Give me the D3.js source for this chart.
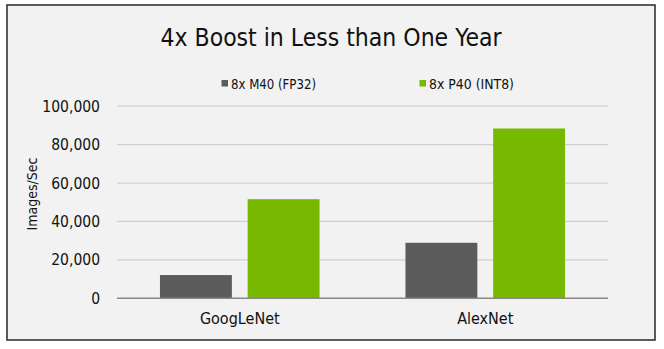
<!DOCTYPE html>
<html><head><meta charset="utf-8">
<script src="https://cdn.jsdelivr.net/npm/d3@7"></script>
<style>
html,body{margin:0;padding:0;background:#fff;}
text{font-family:"DejaVu Sans Condensed","DejaVu Sans",sans-serif;fill:#111;}
</style></head>
<body><svg id="c" width="664" height="349"></svg>
<script>
const categories = ["GoogLeNet", "AlexNet"];
const seriesNames = ["8x M40 (FP32)", "8x P40 (INT8)"];
const m40Values = [12100, 28900];
const p40Values = [51600, 88400];
const yTicks = [0, 20000, 40000, 60000, 80000, 100000];
const colors = ["#5b5b5b", "#76b900"];
const title = "4x Boost in Less than One Year";
const yLabel = "Images/Sec";

const svg = d3.select("#c");
svg.append("rect").attr("x",7).attr("y",5).attr("width",648).attr("height",335)
  .attr("fill","#f2f2f2").attr("stroke","#333").attr("stroke-width",1.6);

const plot = {left:117, right:608, top:106.2, bottom:298.3};
const x0 = d3.scaleBand().domain(categories).range([plot.left, plot.right]).paddingInner(0.35).paddingOuter(0.175);
const x1 = d3.scaleBand().domain(seriesNames).range([0, x0.bandwidth()]).paddingInner(0.18);
const y = d3.scaleLinear().domain([0,100000]).range([plot.bottom, plot.top]);

// gridlines
svg.append("g").selectAll("line").data(yTicks.filter(d=>d>0)).join("line")
  .attr("x1",plot.left).attr("x2",plot.right).attr("y1",d=>y(d)).attr("y2",d=>y(d))
  .attr("stroke","#d0d0d0").attr("stroke-width",1.2);

// y axis labels
const yAxis = d3.axisLeft(y).tickValues(yTicks).tickSize(0).tickPadding(0).tickFormat(d3.format(","));
const ga = svg.append("g").attr("transform",`translate(${plot.left-17},0)`).call(yAxis);
ga.select(".domain").remove();
ga.selectAll("text").attr("font-size",15.5).attr("fill","#111").attr("font-family","'DejaVu Sans Condensed',sans-serif");

// bars
const data = categories.map((c,i)=>({cat:c, vals:[m40Values[i], p40Values[i]]}));
const groups = svg.append("g").selectAll("g").data(data).join("g")
  .attr("transform",d=>`translate(${x0(d.cat)},0)`);
groups.selectAll("rect").data(d=>d.vals.map((v,j)=>({s:seriesNames[j], v, j}))).join("rect")
  .attr("x",d=>x1(d.s)).attr("width",x1.bandwidth())
  .attr("y",d=>y(d.v)).attr("height",d=>y(0)-y(d.v))
  .attr("fill",d=>colors[d.j]);

// baseline
svg.append("line").attr("x1",plot.left).attr("x2",plot.right).attr("y1",y(0)).attr("y2",y(0))
  .attr("stroke","#888").attr("stroke-width",1.5);

// x labels
const xAxis = d3.axisBottom(x0).tickSize(0).tickPadding(0);
const gx = svg.append("g").attr("transform",`translate(0,${plot.bottom+14})`).call(xAxis);
gx.select(".domain").remove();
gx.selectAll("text").attr("font-size",16).attr("fill","#111").attr("font-family","'DejaVu Sans Condensed',sans-serif");

// y label
svg.append("text").attr("transform",`translate(37,194) rotate(-90)`).attr("text-anchor","middle")
  .attr("font-size",14).text(yLabel);

// title
svg.append("text").attr("x",331).attr("y",46).attr("text-anchor","middle")
  .attr("font-size",24.5).text(title);

// legend
const legX = [221.5, 419.5];
seriesNames.forEach((s,i)=>{
  const g = svg.append("g").attr("transform",`translate(${legX[i]},89)`);
  g.append("rect").attr("x",0).attr("y",-9).attr("width",6.5).attr("height",6.5).attr("fill",colors[i]);
  g.append("text").attr("x",9.5).attr("y",0).attr("font-size",14.5)
    .attr("textLength",85).attr("lengthAdjust","spacingAndGlyphs").text(s);
});
</script></body></html>
